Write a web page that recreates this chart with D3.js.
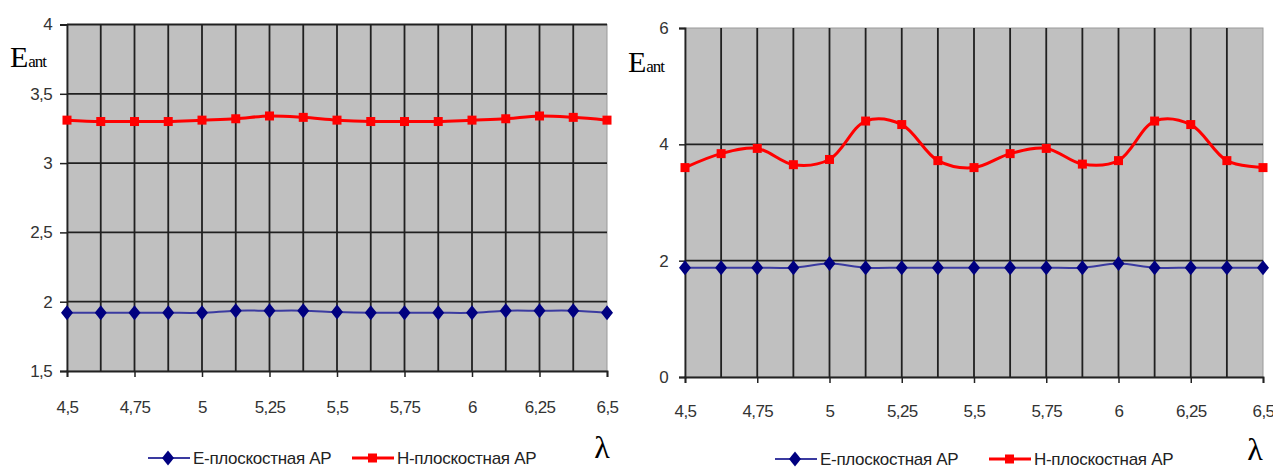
<!DOCTYPE html>
<html>
<head>
<meta charset="utf-8">
<script src="https://cdn.jsdelivr.net/npm/d3@7"></script>
<style>
  body { margin: 0; background: #fff; }
  svg { display: block; }
  .tick text { font-family: "Liberation Sans", Arial, sans-serif; fill: #333; }
</style>
</head>
<body>
<svg id="svg"></svg>
<script>
// wavelength points (every 0.125) and labelled ticks
const lambdas = [4.5, 4.625, 4.75, 4.875, 5, 5.125, 5.25, 5.375, 5.5, 5.625, 5.75, 5.875, 6, 6.125, 6.25, 6.375, 6.5];
const xTickValues = [4.5, 4.75, 5, 5.25, 5.5, 5.75, 6, 6.25, 6.5];

// left chart
const leftE = [1.92, 1.92, 1.92, 1.92, 1.92, 1.935, 1.935, 1.935, 1.925, 1.92, 1.92, 1.92, 1.92, 1.935, 1.935, 1.935, 1.92];
const leftH = [3.31, 3.30, 3.30, 3.30, 3.31, 3.32, 3.34, 3.33, 3.31, 3.30, 3.30, 3.30, 3.31, 3.32, 3.34, 3.33, 3.31];
const leftYTicks = [1.5, 2, 2.5, 3, 3.5, 4];

// right chart
const rightE = [1.88, 1.88, 1.88, 1.88, 1.95, 1.88, 1.88, 1.88, 1.88, 1.88, 1.88, 1.88, 1.95, 1.88, 1.88, 1.88, 1.88];
const rightH = [3.6, 3.84, 3.93, 3.65, 3.74, 4.4, 4.34, 3.72, 3.6, 3.84, 3.93, 3.66, 3.72, 4.4, 4.34, 3.72, 3.6];
const rightYTicks = [0, 2, 4, 6];

const seriesNames = ["E-плоскостная АР", "Н-плоскостная АР"];

const w = 1273;
const h = 468;
let svg = d3.select("#svg").attr("width", w).attr("height", h);

const fmt = v => String(v).replace(".", ",");
const diamond = "M0,-7.5L6,0L0,7.5L-6,0Z";

function drawChart(c) {
    let x = d3.scaleLinear().domain([4.5, 6.5]).range([c.left, c.right]);
    let y = d3.scaleLinear().domain(c.yDomain).range([c.bottom, c.top]);
    let g = svg.append("g");

    // plot area
    g.append("rect")
        .attr("x", c.left).attr("y", c.top)
        .attr("width", c.right - c.left).attr("height", c.bottom - c.top)
        .attr("fill", "#c0c0c0")
        .attr("stroke", "#9a9a9a");

    // vertical grid at every point
    g.selectAll(".vgrid")
        .data(lambdas.slice(1, -1))
        .enter().append("line")
        .attr("x1", d => x(d)).attr("x2", d => x(d))
        .attr("y1", c.top).attr("y2", c.bottom)
        .attr("stroke", "#202020").attr("stroke-width", 1.8);

    g.selectAll(".hgrid")
        .data(c.hGrid)
        .enter().append("line")
        .attr("x1", c.left).attr("x2", c.right)
        .attr("y1", d => y(d)).attr("y2", d => y(d))
        .attr("stroke", "#202020").attr("stroke-width", 1.8);

    // axes
    let yAxis = d3.axisLeft(y).tickValues(c.yTicks).tickSize(c.yTickSize).tickPadding(c.yPad).tickFormat(fmt);
    let ya = g.append("g").attr("transform", "translate(" + c.left + ",0)").call(yAxis);
    let xAxis = d3.axisBottom(x).tickValues(xTickValues).tickSize(6).tickPadding(c.xPad).tickFormat(fmt);
    let xa = g.append("g").attr("transform", "translate(0," + c.bottom + ")").call(xAxis);
    [ya, xa].forEach(a => {
        a.select(".domain").attr("stroke", "#222").attr("stroke-width", 1.8);
        a.selectAll(".tick line").attr("stroke", "#222").attr("stroke-width", 1.5);
        a.selectAll(".tick text").style("font-size", "17px").style("letter-spacing", "-0.6px");
    });

    // series lines
    let line = d3.line()
        .x((d, i) => x(lambdas[i]))
        .y(d => y(d))
        .curve(d3.curveCatmullRom.alpha(0.5));

    g.append("path").datum(c.e)
        .attr("d", line).attr("fill", "none")
        .attr("stroke", "#3a3aa0").attr("stroke-width", 2);
    g.append("path").datum(c.hh)
        .attr("d", line).attr("fill", "none")
        .attr("stroke", "#ff0000").attr("stroke-width", 3);

    g.selectAll(".emark")
        .data(c.e)
        .enter().append("path")
        .attr("d", diamond)
        .attr("transform", (d, i) => "translate(" + x(lambdas[i]) + "," + y(d) + ")")
        .attr("fill", "#000080");
    g.selectAll(".hmark")
        .data(c.hh)
        .enter().append("rect")
        .attr("x", (d, i) => x(lambdas[i]) - 4.5)
        .attr("y", d => y(d) - 4.5)
        .attr("width", 9).attr("height", 9)
        .attr("fill", "#ff0000");

    // E_ant label
    let lab = g.append("text")
        .attr("x", c.eantX).attr("y", c.eantY)
        .attr("font-family", "Liberation Serif, Times New Roman, serif")
        .attr("fill", "#000");
    lab.append("tspan").attr("font-size", "30px").text("E");
    lab.append("tspan").attr("font-size", "17px").attr("letter-spacing", "-1px").text("ant");

    // lambda
    g.append("text")
        .attr("x", c.lamX).attr("y", c.lamY)
        .attr("text-anchor", "middle")
        .attr("font-family", "Liberation Serif, Times New Roman, serif")
        .attr("font-size", "32px")
        .text("λ");

    // legend
    let L = c.legend;
    g.append("line").attr("x1", L.x1).attr("x2", L.x1 + 42).attr("y1", L.y).attr("y2", L.y)
        .attr("stroke", "#3a3aa0").attr("stroke-width", 2);
    g.append("path").attr("d", diamond)
        .attr("transform", "translate(" + (L.x1 + 20) + "," + L.y + ")")
        .attr("fill", "#000080");
    g.append("line").attr("x1", L.x2).attr("x2", L.x2 + 42).attr("y1", L.y).attr("y2", L.y)
        .attr("stroke", "#ff0000").attr("stroke-width", 3);
    g.append("rect").attr("x", L.x2 + 16).attr("y", L.y - 4.5)
        .attr("width", 9).attr("height", 9).attr("fill", "#ff0000");
    [[L.x1 + 45, seriesNames[0]], [L.x2 + 45, seriesNames[1]]].forEach(t => {
        g.append("text")
            .attr("x", t[0]).attr("y", L.y + 6)
            .attr("font-family", "Liberation Sans, Arial, sans-serif")
            .attr("font-size", "17px")
            .attr("letter-spacing", "-0.3px")
            .attr("fill", "#222")
            .text(t[1]);
    });
}

drawChart({
    left: 67, right: 607, top: 24.5, bottom: 371,
    yDomain: [1.5, 4], yTicks: leftYTicks, hGrid: [2, 2.5, 3, 3.5, 4],
    yTickSize: 7, yPad: 8, xPad: 24,
    e: leftE, hh: leftH,
    eantX: 10, eantY: 67,
    lamX: 602, lamY: 458,
    legend: { x1: 148, x2: 352, y: 458 }
});

drawChart({
    left: 685, right: 1263, top: 28, bottom: 377,
    yDomain: [0, 6], yTicks: rightYTicks, hGrid: [2, 4],
    yTickSize: 6, yPad: 11, xPad: 22,
    e: rightE, hh: rightH,
    eantX: 628, eantY: 72,
    lamX: 1255, lamY: 460,
    legend: { x1: 775, x2: 989, y: 459 }
});
</script>
</body>
</html>
